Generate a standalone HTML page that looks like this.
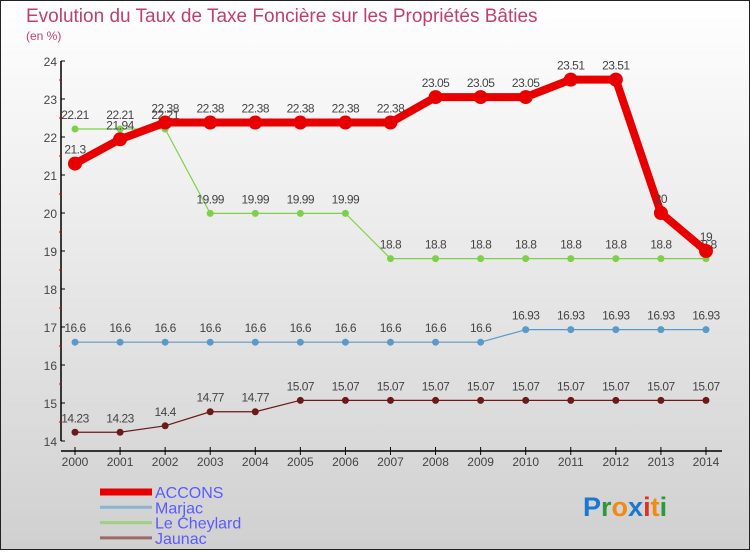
<!DOCTYPE html>
<html><head><meta charset="utf-8"><style>
html,body{margin:0;padding:0}
body{width:750px;height:550px;overflow:hidden;font-family:"Liberation Sans",sans-serif}
</style></head><body>
<svg id="chart" width="750" height="550" xmlns="http://www.w3.org/2000/svg" font-family="Liberation Sans, sans-serif">
<defs><linearGradient id="bg" x1="0" y1="0" x2="0" y2="1"><stop offset="0" stop-color="#ffffff"/><stop offset="1" stop-color="#d0d0d0"/></linearGradient></defs>
<rect x="0.5" y="0.5" width="749" height="549" fill="url(#bg)" stroke="#222"/>
<text x="26" y="22" font-size="19" fill="#c0406a">Evolution du Taux de Taxe Foncière sur les Propriétés Bâties</text>
<text x="26" y="40" font-size="12" fill="#c0406a">(en %)</text>
<g id="axes"></g><g id="series"></g><g id="legend"></g>
<text x="583" y="516" font-size="27" font-weight="bold"><tspan fill="#1a78d0">P</tspan><tspan fill="#2a9a3a">r</tspan><tspan fill="#f08a10">o</tspan><tspan fill="#1a78d0">x</tspan><tspan fill="#e03020">i</tspan><tspan fill="#f08a10">t</tspan><tspan fill="#2a9a3a">i</tspan></text>
</svg>
<script>
const years=[2000,2001,2002,2003,2004,2005,2006,2007,2008,2009,2010,2011,2012,2013,2014];
const accons=[21.3,21.94,22.38,22.38,22.38,22.38,22.38,22.38,23.05,23.05,23.05,23.51,23.51,20,19];
const marjac=[16.6,16.6,16.6,16.6,16.6,16.6,16.6,16.6,16.6,16.6,16.93,16.93,16.93,16.93,16.93];
const cheylard=[22.21,22.21,22.21,19.99,19.99,19.99,19.99,18.8,18.8,18.8,18.8,18.8,18.8,18.8,18.8];
const jaunac=[14.23,14.23,14.4,14.77,14.77,15.07,15.07,15.07,15.07,15.07,15.07,15.07,15.07,15.07,15.07];
const yTicks=[14,15,16,17,18,19,20,21,22,23,24];
const NS="http://www.w3.org/2000/svg";
const xS=i=>75+i*45.07, yS=v=>441-(v-14)*38;
function mk(p,t,a){const e=document.createElementNS(NS,t);for(const k in a)e.setAttribute(k,a[k]);p.appendChild(e);return e;}
const ax=document.getElementById('axes');
let e=mk(ax,'line',{x1:61,y1:61,x2:61,y2:441,stroke:'#000','stroke-width':1.5});

e=mk(ax,'line',{x1:61,y1:451,x2:722,y2:451,stroke:'#000','stroke-width':1.5});

yTicks.forEach(v=>{const y=yS(v);
 mk(ax,'line',{x1:61,y1:y,x2:65,y2:y,stroke:'#000'});
 if(v<24)mk(ax,'line',{x1:59,y1:y-19,x2:62,y2:y-19,stroke:'#d00'});
 const t=mk(ax,'text',{x:57,y:y+5,'font-size':12,fill:'#444','text-anchor':'end'});t.textContent=v;
 });
years.forEach((yr,i)=>{const x=xS(i);
 mk(ax,'line',{x1:x,y1:447,x2:x,y2:455,stroke:'#000'});
 const t=mk(ax,'text',{x:x,y:466,'font-size':12,fill:'#444','text-anchor':'middle'});t.textContent=yr;
 });
const sg=document.getElementById('series');
function draw(name,vals,col,w,r){const g=mk(sg,'g',{});
 
 const l=mk(g,'polyline',{points:vals.map((v,i)=>xS(i)+','+yS(v)).join(' '),fill:'none',stroke:col,'stroke-width':w,'stroke-linejoin':'round'});
 
 vals.forEach((v,i)=>{const c=mk(g,'circle',{cx:xS(i),cy:yS(v),r:r,fill:col});
  
  const t=mk(g,'text',{x:xS(i),y:yS(v)-10,'font-size':12,fill:'#444','text-anchor':'middle','letter-spacing':'-0.5'});t.textContent=v;
  });}
draw('jaunac',jaunac,'#6b1a1a',1.2,3.5);
draw('marjac',marjac,'#5a9ac8',1.2,3.5);
draw('le-cheylard',cheylard,'#7ed04a',1.2,3.5);
draw('accons',accons,'#e80000',8,7);
const lg=document.getElementById('legend');
[['ACCONS','#e80000',7],['Marjac','#8ab4d0',3],['Le Cheylard','#a0d080',3],['Jaunac','#9a6a6a',3]].forEach((d,i)=>{
 const y=492+i*15.3;const g=mk(lg,'g',{});
 
 mk(g,'line',{x1:100,y1:y,x2:152,y2:y,stroke:d[1],'stroke-width':d[2]});
 const t=mk(g,'text',{x:155,y:y+6,'font-size':16,fill:'#5a5aff'});t.textContent=d[0];});
</script>
</body></html>
